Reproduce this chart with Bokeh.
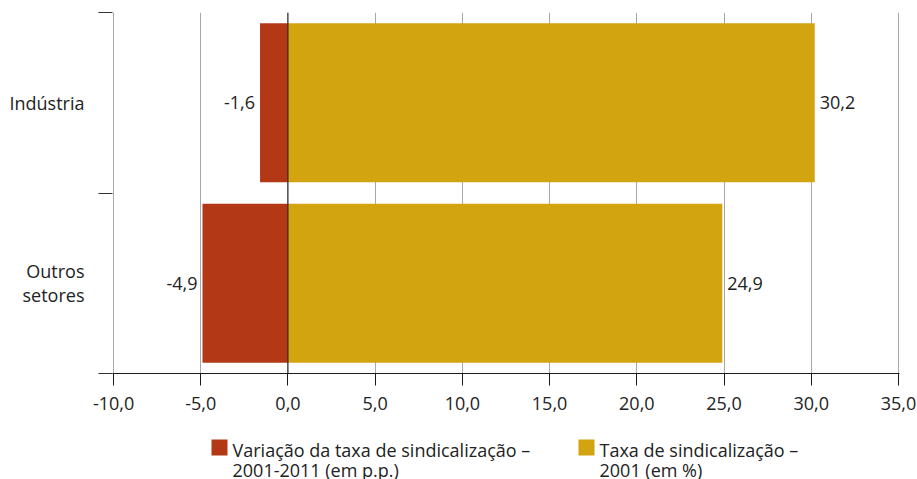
from bokeh.plotting import figure
from bokeh.layouts import column
from bokeh.models import (Range1d, FixedTicker, Span, LabelSet, ColumnDataSource)
from bokeh.core.properties import value
from bokeh.embed import file_html
from bokeh.resources import INLINE

# Sectors, listed top to bottom
sectors = ["Indústria", "Outros setores"]
sector_labels = ["Indústria", "Outros\nsetores"]
# Change in unionization rate 2001-2011 (p.p.)
variation = [-1.6, -4.9]
# Unionization rate in 2001 (%)
rate_2001 = [30.2, 24.9]

x_ticks = [-10, -5, 0, 5, 10, 15, 20, 25, 30, 35]
x_tick_labels = ["-10,0", "-5,0", "0,0", "5,0", "10,0", "15,0", "20,0", "25,0", "30,0", "35,0"]

series_names = ["Variação da taxa de sindicalização –\n2001-2011 (em p.p.)",
                "Taxa de sindicalização –\n2001 (em %)"]
RED = "#b23816"
GOLD = "#d1a410"
series_colors = [RED, GOLD]
FONT = "Open Sans"
FS = "18px"
TXT = "#222222"

W = 917
H_MAIN = 425
H_LEG = 479 - H_MAIN
BL, BR = 112, 18  # left / right borders around the plotting frame

n = len(sectors)
# each sector occupies one unit band; first sector on top
ypos = [n - i - 0.5 for i in range(n)]

def fmt(v):
    return f"{v:.1f}".replace(".", ",")

src = ColumnDataSource(dict(
    y=ypos, var=variation, rate=rate_2001,
    var_lbl=[fmt(v) for v in variation],
    rate_lbl=[fmt(v) for v in rate_2001],
))

# a hair of padding so the edge grid lines stay visible
pad = 0.06
p = figure(width=W, height=H_MAIN, output_backend="svg", toolbar_location=None,
           x_range=Range1d(x_ticks[0] - pad, x_ticks[-1] + pad), y_range=Range1d(0, n),
           min_border_left=BL, min_border_right=BR, min_border_top=12,
           min_border_bottom=H_MAIN - 373)
p.outline_line_color = None

p.hbar(y="y", left=0, right="var", height=0.88, source=src,
       fill_color=RED, line_color=None)
p.hbar(y="y", left=0, right="rate", height=0.88, source=src,
       fill_color=GOLD, line_color=None)

p.add_layout(Span(location=0, dimension="height", line_color="#1a1a1a", line_width=1))

# value labels
p.add_layout(LabelSet(x="var", y="y", text="var_lbl", source=src, x_offset=-5,
                      text_align="right", text_baseline="middle",
                      text_font=value(FONT), text_font_size=FS, text_color=TXT))
p.add_layout(LabelSet(x="rate", y="y", text="rate_lbl", source=src, x_offset=5,
                      text_align="left", text_baseline="middle",
                      text_font=value(FONT), text_font_size=FS, text_color=TXT))

# x axis
p.xaxis.ticker = FixedTicker(ticks=x_ticks)
p.xaxis.major_label_overrides = dict(zip(x_ticks, x_tick_labels))
p.xaxis.axis_line_color = "#1a1a1a"
p.xaxis.major_tick_line_color = "#1a1a1a"
p.xaxis.major_tick_out = 12
p.xaxis.major_tick_in = 0
p.xaxis.minor_tick_line_color = None
p.xaxis.major_label_standoff = 11
p.xaxis.major_label_text_font = FONT
p.xaxis.major_label_text_font_size = FS
p.xaxis.major_label_text_color = TXT

# y axis: labels at band centres, tick marks at band edges
p.yaxis.ticker = FixedTicker(ticks=ypos, minor_ticks=list(range(n + 1)))
p.yaxis.major_label_overrides = dict(zip(ypos, sector_labels))
p.yaxis.axis_line_color = None
p.yaxis.major_tick_line_color = None
p.yaxis.major_tick_out = 0
p.yaxis.major_tick_in = 0
p.yaxis.minor_tick_line_color = "#333333"
p.yaxis.minor_tick_out = 14
p.yaxis.minor_tick_in = 0
p.yaxis.major_label_standoff = 14
p.yaxis.major_label_text_font = FONT
p.yaxis.major_label_text_font_size = FS
p.yaxis.major_label_text_color = TXT
p.yaxis.major_label_text_line_height = 1.0

p.xgrid.ticker = FixedTicker(ticks=x_ticks)
p.xgrid.grid_line_color = "#a8a8a8"
p.ygrid.grid_line_color = None

# legend strip underneath the chart; its frame lines up with the chart frame,
# so the x range is given in page pixels across that frame (y grows downward)
leg = figure(width=W, height=H_LEG, output_backend="svg", toolbar_location=None,
             x_range=Range1d(BL, W - BR), y_range=Range1d(H_LEG, 0),
             min_border_left=BL, min_border_right=BR, min_border_top=0,
             min_border_bottom=0, x_axis_type=None, y_axis_type=None)
leg.outline_line_color = None
leg.xgrid.visible = False
leg.ygrid.visible = False

key_x = [219, 586]
leg.rect(x=key_x, y=[22, 22], width=16, height=16,
         fill_color=series_colors, line_color=None)

# each legend entry is set on two lines, one baseline per line
line_gap = 20
first_baseline = 24
lx, ly, lt = [], [], []
for kx, name in zip(key_x, series_names):
    for j, part in enumerate(name.split("\n")):
        lx.append(kx + 13)
        ly.append(first_baseline + j * line_gap)
        lt.append(part)
leg.text(x=lx, y=ly, text=lt,
         text_font=value(FONT), text_font_size=FS, text_color=TXT,
         text_baseline="alphabetic", text_align="left")

open("out.html", "w").write(file_html(column(p, leg, spacing=0), INLINE))
